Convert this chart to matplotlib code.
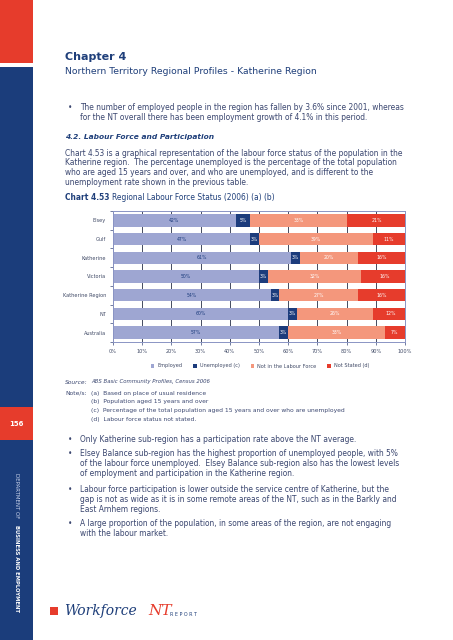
import numpy as np
import matplotlib
matplotlib.use("Agg")
import matplotlib.pyplot as plt
from matplotlib.patches import Rectangle
from matplotlib.text import Annotation

W, H = 453, 640

# chart data (percent)
regions = ['Elsey', 'Gulf', 'Katherine', 'Victoria', 'Katherine Region', 'NT', 'Australia']
employed = [42, 47, 61, 50, 54, 60, 57]
unemployed = [5, 3, 3, 3, 3, 3, 3]
not_in_lf = [33, 39, 20, 32, 27, 26, 33]
not_stated = [21, 11, 16, 16, 16, 12, 7]
series_names = ['Employed', 'Unemployed (c)', 'Not in the Labour Force', 'Not Stated (d)']
colors = ['#9ea6d2', '#1c3c7c', '#f4977c', '#e63c2c']
label_colors = ['#1c3c7c', 'white', 'white', 'white']
xticks = [0, 10, 20, 30, 40, 50, 60, 70, 80, 90, 100]

navy = '#1f3f7a'
body = '#3b4770'
red = '#e63c2c'


def P(x, y):
    return (x / W, 1 - y / H)


fig = plt.figure(figsize=(W / 100, H / 100), dpi=100)
fig.patch.set_facecolor('white')

# sidebar
fig.add_artist(Rectangle(P(0, 63), 33 / W, 63 / H, transform=fig.transFigure, color=red, lw=0))
fig.add_artist(Rectangle(P(0, 640), 33 / W, (640 - 67) / H, transform=fig.transFigure, color='#1b3d7b', lw=0))
fig.add_artist(Rectangle(P(0, 440), 33 / W, 33 / H, transform=fig.transFigure, color=red, lw=0))
fig.text(*P(16.5, 424), '156', color='white', fontsize=5, fontweight='bold', ha='center', va='center')
fig.text(*P(16, 473), 'DEPARTMENT OF', color='#c8d2ea', fontsize=4.0, rotation=270, ha='center', va='top')
fig.text(*P(16, 525), 'BUSINESS AND EMPLOYMENT', color='white', fontsize=3.8, fontweight='bold',
         rotation=270, ha='center', va='top')

# header
fig.text(*P(65, 57), 'Chapter 4', color=navy, fontsize=8, fontweight='bold', va='center')
fig.text(*P(65, 71), 'Northern Territory Regional Profiles - Katherine Region', color=navy, fontsize=6.7, va='center')

fs = 5.45


def bullet(y, lines):
    fig.text(*P(68, y), '•', color=body, fontsize=fs, va='center')
    for i, line in enumerate(lines):
        fig.text(*P(80, y + 10 * i), line, color=body, fontsize=fs, va='center')


bullet(108, ['The number of employed people in the region has fallen by 3.6% since 2001, whereas',
             'for the NT overall there has been employment growth of 4.1% in this period.'])

fig.text(*P(65, 137), '4.2. Labour Force and Participation', color=navy, fontsize=5.4,
         fontweight='bold', fontstyle='italic', va='center')
para = ['Chart 4.53 is a graphical representation of the labour force status of the population in the',
        'Katherine region.  The percentage unemployed is the percentage of the total population',
        'who are aged 15 years and over, and who are unemployed, and is different to the',
        'unemployment rate shown in the previous table.']
for i, line in enumerate(para):
    fig.text(*P(65, 153 + 9.8 * i), line, color=body, fontsize=fs, va='center')

t1 = fig.text(*P(65, 197), 'Chart 4.53', color=navy, fontsize=fs, fontweight='bold', va='center')
fig.add_artist(Annotation('Regional Labour Force Status (2006) (a) (b)', xy=(1, 0.5), xycoords=t1,
                          xytext=(2, 0), textcoords='offset points', color=navy, fontsize=fs, va='center'))

# chart
ax = fig.add_axes([113 / W, 1 - 342 / H, 292 / W, 131 / H])
y = np.arange(len(regions))
left = np.zeros(len(regions))
handles = []
for vals, name, c, lc in zip([employed, unemployed, not_in_lf, not_stated], series_names, colors, label_colors):
    vals = np.array(vals)
    bars = ax.barh(y, vals, left=left, height=0.66, color=c, label=name, zorder=2)
    handles.append(bars)
    for yi, l, v in zip(y, left, vals):
        ax.text(l + v / 2, yi, f'{v}%', color=lc, fontsize=3.3, ha='center', va='center', zorder=3)
    left = left + vals

ax.set_xlim(0, 100)
ax.set_ylim(len(regions) - 0.5, -0.5)
ax.set_xticks(xticks)
ax.set_xticklabels([f'{t}%' for t in xticks])
ax.set_yticks(y)
ax.set_yticklabels(regions)
ax.set_yticks(np.arange(len(regions) + 1) - 0.5, minor=True)
ax.tick_params(axis='y', which='major', length=0, labelsize=3.6, labelcolor='#404a66', pad=5)
ax.tick_params(axis='y', which='minor', length=2, color='#5a6690', width=0.6)
ax.tick_params(axis='x', length=2, color='#5a6690', width=0.6, labelsize=3.6, labelcolor='#404a66', pad=3)
ax.grid(axis='x', color='#444b60', linewidth=0.7, zorder=0)
ax.set_axisbelow(True)
for s in ax.spines.values():
    s.set_color('#8a94c4')
    s.set_linewidth(0.7)

fig.legend(handles, series_names, loc='center', bbox_to_anchor=P(260, 366), ncol=4, frameon=False,
           fontsize=3.6, handlelength=0.7, handleheight=0.7, columnspacing=2.2, handletextpad=0.6,
           labelcolor='#404a66')

# source and notes
nfs = 4.35
fig.text(*P(65, 382), 'Source:', color=body, fontsize=nfs, fontstyle='italic', va='center')
fig.text(*P(91, 382), 'ABS Basic Community Profiles, Census 2006', color=body, fontsize=3.9,
         fontstyle='italic', va='center')
fig.text(*P(65, 393), 'Note/s:', color=body, fontsize=nfs, va='center')
notes = ['(a)  Based on place of usual residence',
         '(b)  Population aged 15 years and over',
         '(c)  Percentage of the total population aged 15 years and over who are unemployed',
         '(d)  Labour force status not stated.']
for i, n in enumerate(notes):
    fig.text(*P(91, 393 + 8.7 * i), n, color=body, fontsize=nfs, va='center')

bullet(439, ['Only Katherine sub-region has a participation rate above the NT average.'])
bullet(454, ['Elsey Balance sub-region has the highest proportion of unemployed people, with 5%',
             'of the labour force unemployed.  Elsey Balance sub-region also has the lowest levels',
             'of employment and participation in the Katherine region.'])
bullet(489, ['Labour force participation is lower outside the service centre of Katherine, but the',
             'gap is not as wide as it is in some remote areas of the NT, such as in the Barkly and',
             'East Arnhem regions.'])
bullet(524, ['A large proportion of the population, in some areas of the region, are not engaging',
             'with the labour market.'])

# footer logo
fig.add_artist(Rectangle(P(50, 615), 8 / W, 8 / H, transform=fig.transFigure, color=red, lw=0))
fig.text(*P(64, 611), 'Workforce', color=navy, fontsize=10, family='DejaVu Serif',
         fontstyle='italic', va='center')
fig.text(*P(148, 611), 'NT', color=red, fontsize=11, family='DejaVu Serif', fontstyle='italic', va='center')
fig.text(*P(170, 614), 'R E P O R T', color=navy, fontsize=3.5, va='center')

fig.savefig('out.png', dpi=100)
